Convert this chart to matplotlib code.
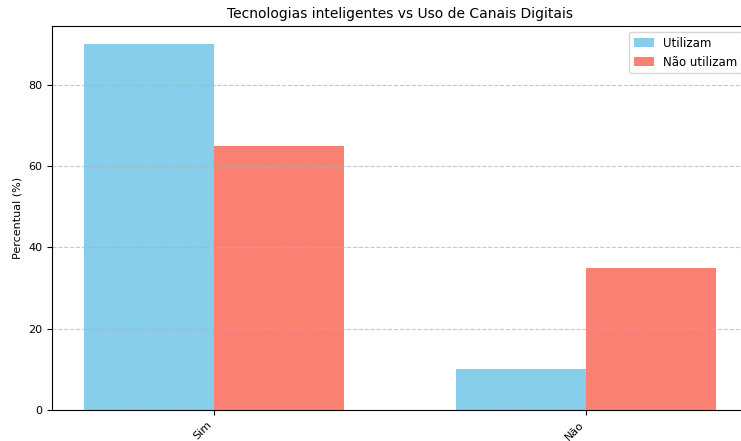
import matplotlib
matplotlib.use("Agg")
import matplotlib.pyplot as plt
import numpy as np

categorias = ["Sim", "Não"]
utilizam = [90, 10]
nao_utilizam = [65, 35]

x = np.arange(len(categorias))
largura = 0.35

fig = plt.figure(figsize=(7.41, 4.41), dpi=100)
ax = fig.add_axes([0.0702, 0.0703, 0.9392, 0.8707])

ax.bar(x - largura / 2, utilizam, largura, label="Utilizam", color="skyblue")
ax.bar(x + largura / 2, nao_utilizam, largura, label="Não utilizam", color="salmon")

ax.set_title("Tecnologias inteligentes vs Uso de Canais Digitais", fontsize=10)
ax.set_ylabel("Percentual (%)", fontsize=8)
ax.set_xticks(x)
ax.set_xticklabels(categorias, rotation=45, ha="right", fontsize=8)
ax.tick_params(axis="y", labelsize=8)
ax.legend(fontsize=8.5, handlelength=1.7)
ax.grid(axis="y", linestyle="--", alpha=0.7)

fig.savefig("out.png", dpi=100)
